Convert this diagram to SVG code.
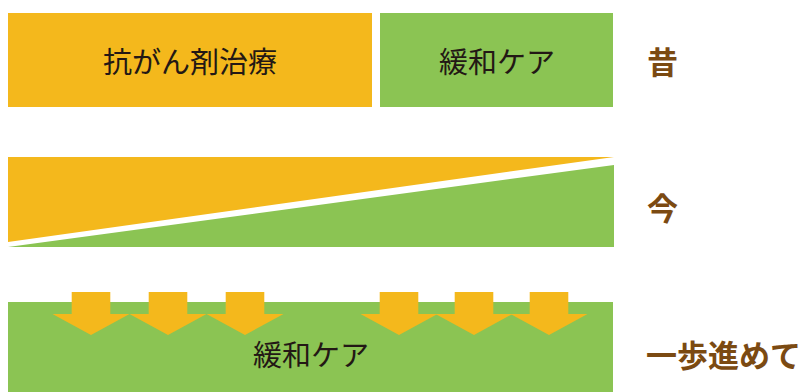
<svg xmlns="http://www.w3.org/2000/svg" width="801" height="392" viewBox="0 0 801 392">
<style>
.o{fill:#F4B81C}
.g{fill:#8BC453}
.t{font-family:"Noto Sans CJK JP","Noto Sans",sans-serif;font-size:29px;fill:#231815;text-anchor:middle}
.b{font-family:"Noto Sans CJK JP","Noto Sans",sans-serif;font-size:31px;font-weight:bold;fill:#7B4A12}
</style>
<defs>
<polygon id="arr" points="-19.3,0 19.3,0 19.3,22 38.5,22 0,43 -38.5,22 -19.3,22"/>
</defs>
<rect width="801" height="392" fill="#fff"/>
<g id="past">
<rect class="o" x="8" y="13" width="364" height="94"/>
<text class="t" x="190" y="73">抗がん剤治療</text>
<rect class="g" x="380" y="13" width="233" height="94"/>
<text class="t" x="497" y="73">緩和ケア</text>
</g>
<g id="now">
<polygon class="o" points="8,157 614,157 8,242"/>
<polygon class="g" points="8,247 614,165 614,247"/>
</g>
<g id="future">
<rect class="g" x="8" y="302" width="605" height="90"/>
<g class="o">
<use href="#arr" x="91" y="292"/>
<use href="#arr" x="168" y="292"/>
<use href="#arr" x="245" y="292"/>
<use href="#arr" x="399" y="292"/>
<use href="#arr" x="474" y="292"/>
<use href="#arr" x="549" y="292"/>
</g>
<text class="t" x="311" y="366">緩和ケア</text>
</g>
<g id="labels">
<text class="b" x="647" y="74">昔</text>
<text class="b" x="647" y="220">今</text>
<text class="b" x="646" y="367">一歩進めて</text>
</g>
</svg>
